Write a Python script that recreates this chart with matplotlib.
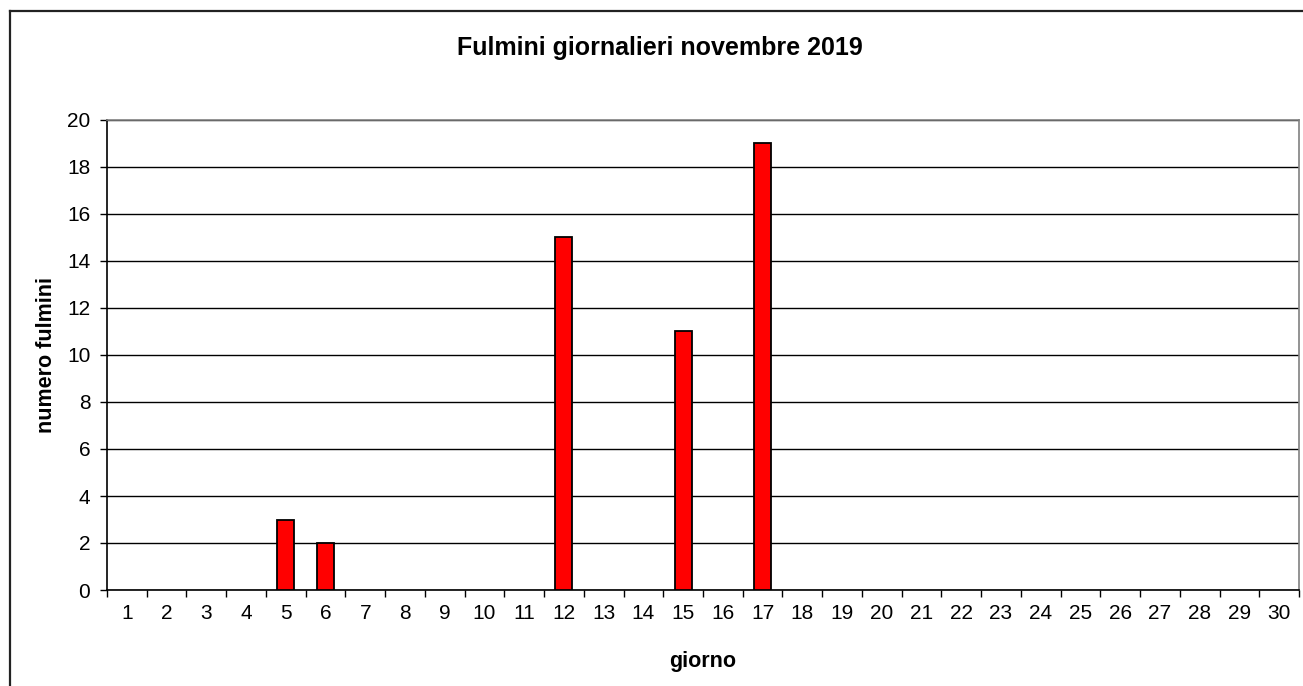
import matplotlib
matplotlib.use("Agg")
import matplotlib.pyplot as plt
from matplotlib.lines import Line2D

plt.rcParams['font.family'] = ['Liberation Sans', 'DejaVu Sans']

giorni = list(range(1, 31))
fulmini = [0, 0, 0, 0, 3, 2, 0, 0, 0, 0,
           0, 15, 0, 0, 11, 0, 19, 0, 0, 0,
           0, 0, 0, 0, 0, 0, 0, 0, 0, 0]
y_ticks = list(range(0, 21, 2))

fig = plt.figure(figsize=(13.03, 6.86), dpi=100)
ax = fig.add_axes([107/1303, 96/686, (1299-107)/1303, (590-120)/686])

# niente bordo per le barre a zero (come in Excel)
lw = [1.3 if v > 0 else 0 for v in fulmini]
ax.bar(giorni, fulmini, width=0.43, color='#ff0000', edgecolor='black',
       linewidth=lw, zorder=3)

ax.set_xlim(0.5, 30.5)
ax.set_ylim(0, 20)
ax.set_yticks(y_ticks)
ax.yaxis.grid(True, color='black', linewidth=1, zorder=0)
ax.set_axisbelow(True)

ax.set_xticks(giorni)
ax.set_xticks([g - 0.5 for g in giorni] + [30.5], minor=True)
ax.tick_params(axis='x', which='major', length=0, pad=10, labelsize=15)
ax.tick_params(axis='x', which='minor', length=5, width=1, direction='out')
ax.tick_params(axis='y', length=5, width=1, pad=7, labelsize=15)

for s in ['left', 'bottom']:
    ax.spines[s].set_color('black')
    ax.spines[s].set_linewidth(1.2)
for s in ['top', 'right']:
    ax.spines[s].set_color('#808080')
    ax.spines[s].set_linewidth(1.2)

ax.set_xlabel('giorno', fontsize=15.5, fontweight='bold', labelpad=20)
ax.set_ylabel('numero fulmini', fontsize=15.5, fontweight='bold', labelpad=7)
fig.text(660/1303, 1 - 48/686, 'Fulmini giornalieri novembre 2019',
         ha='center', va='center', fontsize=18, fontweight='bold')

# cornice esterna del grafico
fig.add_artist(Line2D([10/1303, 10/1303], [0, 1 - 11/686], transform=fig.transFigure,
                      color='#222222', linewidth=1.6))
fig.add_artist(Line2D([10/1303, 1], [1 - 11/686, 1 - 11/686], transform=fig.transFigure,
                      color='#222222', linewidth=1.6))

fig.savefig('out.png', dpi=100)
